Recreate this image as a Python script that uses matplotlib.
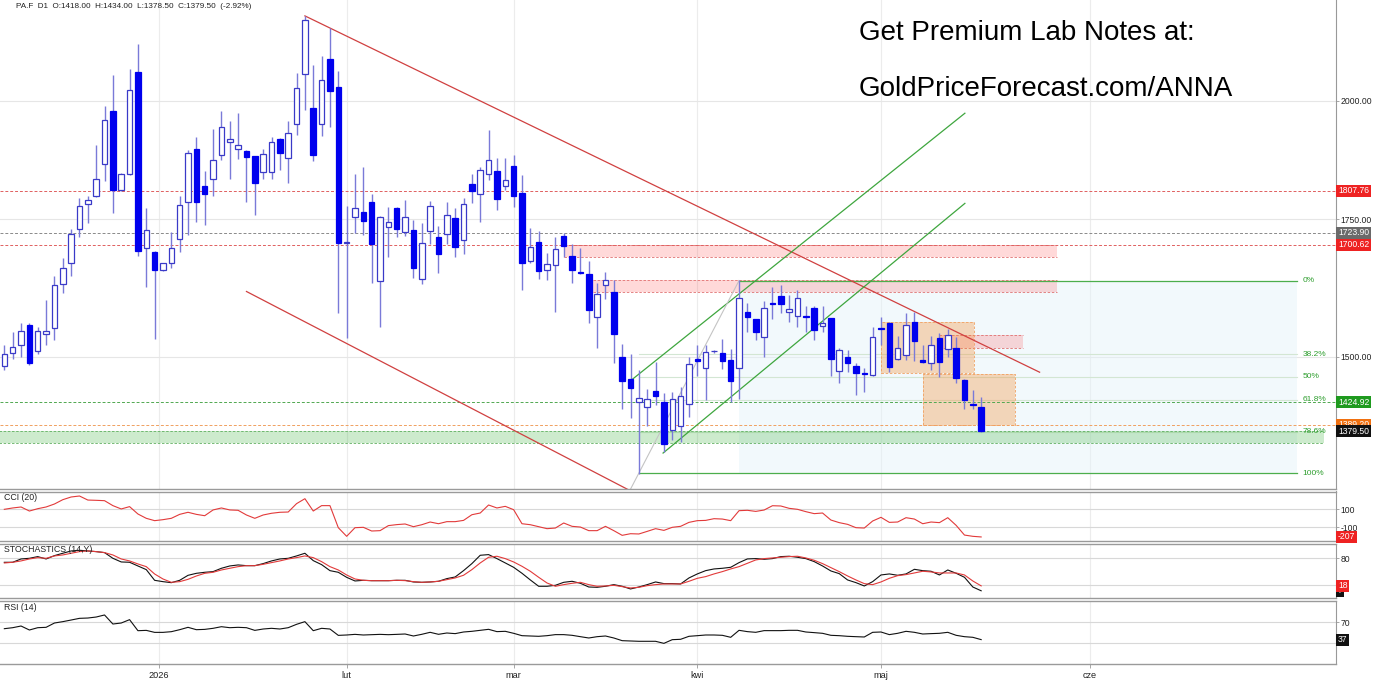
import numpy as np
import matplotlib.pyplot as plt
import matplotlib.ticker as mticker

plt.rcParams['font.family'] = ['Liberation Sans', 'DejaVu Sans']

# daily OHLC, PA.F (index 0 = first visible candle)
opens = [1484, 1507, 1519, 1555, 1510, 1538, 1549, 1627, 1666, 1731,
         1781, 1796, 1862, 1977, 1808, 1841, 2065, 1694, 1687, 1653,
         1666, 1713, 1785, 1894, 1817, 1831, 1882, 1910, 1894, 1891,
         1879, 1845, 1845, 1915, 1876, 1948, 2062, 1984, 1948, 2095,
         2030, 1704, 1754, 1765, 1785, 1634, 1735, 1773, 1725, 1730,
         1637, 1728, 1716, 1721, 1753, 1710, 1821, 1801, 1841, 1847,
         1818, 1858, 1803, 1671, 1706, 1653, 1662, 1718, 1680, 1650,
         1646, 1568, 1625, 1613, 1500, 1463, 1425, 1417, 1444, 1425,
         1381, 1388, 1423, 1496, 1481, 1509, 1506, 1494, 1481, 1577,
         1564, 1533, 1594, 1606, 1577, 1571, 1570, 1584, 1553, 1566,
         1476, 1500, 1484, 1473, 1469, 1549, 1558, 1496, 1502, 1559,
         1494, 1490, 1531, 1513, 1514, 1461, 1423, 1418]
highs = [1520, 1542, 1558, 1557, 1550, 1599, 1642, 1675, 1731, 1793,
         1797, 1903, 1987, 2058, 1843, 2072, 2131, 1772, 1689, 1667,
         1725, 1796, 1893, 1919, 1849, 1938, 1977, 1954, 1972, 1892,
         1880, 1895, 1921, 1917, 1954, 2063, 2200, 2081, 2103, 2170,
         2068, 1777, 1841, 1857, 1800, 1756, 1774, 1775, 1789, 1749,
         1744, 1786, 1737, 1785, 1773, 1792, 1841, 1856, 1935, 1875,
         1875, 1882, 1840, 1733, 1728, 1685, 1716, 1723, 1703, 1694,
         1670, 1629, 1649, 1635, 1522, 1504, 1478, 1446, 1491, 1440,
         1441, 1450, 1499, 1520, 1520, 1512, 1530, 1513, 1635, 1593,
         1565, 1597, 1622, 1625, 1608, 1617, 1587, 1587, 1588, 1567,
         1514, 1511, 1490, 1481, 1551, 1569, 1559, 1535, 1575, 1578,
         1520, 1535, 1541, 1548, 1534, 1462, 1445, 1434]
lows = [1478, 1496, 1499, 1486, 1505, 1520, 1528, 1612, 1643, 1715,
        1744, 1795, 1827, 1762, 1807, 1840, 1680, 1623, 1530, 1651,
        1658, 1687, 1720, 1746, 1739, 1796, 1870, 1832, 1873, 1785,
        1759, 1832, 1832, 1850, 1823, 1924, 1979, 1868, 1922, 1942,
        1575, 1532, 1723, 1720, 1629, 1550, 1678, 1715, 1718, 1638,
        1627, 1702, 1647, 1702, 1678, 1683, 1783, 1746, 1830, 1769,
        1808, 1774, 1617, 1667, 1636, 1635, 1577, 1678, 1630, 1646,
        1557, 1515, 1600, 1490, 1415, 1400, 1315, 1388, 1420, 1347,
        1366, 1363, 1402, 1467, 1429, 1507, 1479, 1426, 1431, 1543,
        1528, 1500, 1565, 1575, 1560, 1551, 1543, 1528, 1543, 1467,
        1457, 1474, 1437, 1442, 1467, 1520, 1474, 1495, 1494, 1493,
        1489, 1478, 1466, 1500, 1457, 1415, 1415, 1378.5]
closes = [1504, 1517, 1544, 1489, 1544, 1544, 1626, 1658, 1722, 1777,
          1788, 1831, 1957, 1808, 1841, 2024, 1690, 1730, 1653, 1666,
          1694, 1778, 1885, 1785, 1801, 1870, 1941, 1915, 1902, 1877,
          1824, 1883, 1909, 1885, 1928, 2028, 2190, 1882, 2047, 2021,
          1704, 1707, 1772, 1748, 1702, 1754, 1746, 1731, 1754, 1658,
          1704, 1777, 1683, 1759, 1697, 1780, 1807, 1850, 1871, 1791,
          1830, 1796, 1666, 1696, 1652, 1664, 1693, 1699, 1653, 1648,
          1581, 1610, 1635, 1538, 1459, 1448, 1432, 1430, 1435, 1359,
          1430, 1435, 1487, 1493, 1508, 1510, 1493, 1459, 1602, 1569,
          1542, 1584, 1592, 1591, 1583, 1602, 1568, 1545, 1558, 1496,
          1511, 1489, 1472, 1471, 1534, 1547, 1483, 1514, 1555, 1527,
          1491, 1520, 1491, 1537, 1464, 1428, 1420, 1379.5]

cci = [100, 115, 126, 81, 107, 126, 159, 207, 237, 248,
       203, 200, 196, 141, 104, 130, 48, 0, -26, -15,
       0, 44, 67, 44, 29, 93, 115, 93, 89, 37,
       0, 37, 56, 67, 70, 163, 218, 81, 141, 141,
       -104, -200, -104, -100, -141, -137, -81, -70, -63, -93,
       -71, -41, -60, -37, -37, -23, 40, 59, 148, 115,
       133, 96, -60, -71, -93, -115, -108, -52, -89, -97,
       -137, -137, -89, -137, -189, -171, -174, -145, -115, -134,
       -100, -89, -45, -26, -23, -4, -8, -26, 85, 89,
       77, 92, 140, 137, 111, 100, 74, 52, 59, -19,
       -48, -67, -104, -108, -30, 11, -45, -41, 7, -8,
       -60, -41, -48, 7, -78, -186, -200, -207]

stoch_k = [70.9, 71, 78.4, 79.9, 83.7, 78.4, 85.9, 91.2, 96.4, 97.9,
           96.4, 94.9, 92.7, 79.9, 71.7, 71, 62.7, 54.5, 30.5, 27.5,
           25.2, 30.5, 41.7, 46.2, 48.5, 50, 57.5, 62.7, 65, 63.4,
           63.4, 68, 74, 78.4, 79.9, 85.2, 91.2, 74.7, 65.7, 52.2,
           48.5, 37.2, 29, 30.5, 29.7, 29.7, 29.7, 30.5, 30.5, 26.8,
           26, 26.8, 28.3, 34.3, 38, 52.2, 68, 86.7, 88.2, 79.2,
           69.5, 59.7, 46.3, 31.3, 17.1, 17.1, 19.3, 26, 28.3, 23.8,
           15.5, 14.8, 17.1, 20.8, 17.1, 11.1, 15.5, 20.8, 26.8, 23.1,
           23.1, 22.3, 35.8, 44.8, 52.2, 56, 57.5, 59.7, 70.2, 78.5,
           79.2, 77.7, 79.2, 83.7, 84.5, 82.2, 79.2, 72.5, 62.7, 51.5,
           45.5, 31.3, 25.3, 17.8, 27.5, 42.5, 44.8, 41.8, 44.8, 55.2,
           52.2, 50.8, 42.5, 53.7, 46.3, 37.3, 15.5, 7]
stoch_d = [69.4, 71, 74, 78.4, 81.4, 79.9, 85.2, 87.4, 91.2, 94.9,
           96.4, 94.9, 92.7, 87.4, 78.4, 74, 67.2, 61.2, 44.7, 33.5,
           26, 27.5, 32.7, 40.2, 46.2, 48.5, 53.7, 57.5, 61.2, 63.4,
           63.4, 66.4, 70.2, 74, 78.4, 81.4, 85.2, 81.4, 72.4, 61.2,
           53.7, 42.5, 33.5, 30.5, 29.7, 29.7, 29.7, 30.5, 29.8, 27.5,
           26, 26.8, 28.3, 32, 35.8, 41.8, 54.5, 69.5, 82.2, 84.5,
           79.2, 71.7, 62, 50.8, 37.3, 24.5, 17.1, 20.8, 23.8, 26,
           20.8, 17.1, 17.8, 19.3, 16.3, 13.3, 14.8, 18.5, 20.8, 22.3,
           22.3, 22.3, 28.3, 35, 38.8, 44.8, 50, 56, 61.2, 68.7,
           76.2, 79.2, 80.7, 82.2, 83.7, 84.5, 80.7, 75.5, 68, 59,
           50, 40.3, 31.3, 23.1, 20.8, 26.8, 35, 41, 43.3, 47,
           50.8, 49.3, 47, 47, 47, 42.5, 29, 18]
rsi = [57.8, 59.7, 62.9, 55.3, 59.7, 60.4, 68.6, 71.2, 74.3, 77.5,
       78.1, 80, 83.9, 66.7, 68.6, 75, 54, 54.6, 50.8, 50.8,
       52.1, 55.9, 60.4, 55.9, 56.5, 58.5, 61.6, 59.7, 60.4, 59.7,
       54.6, 57.2, 58.5, 57.2, 59.7, 66.1, 71.2, 54, 58.5, 57.2,
       45.1, 45.8, 47, 45.8, 46.4, 47, 46.4, 47, 47.7, 43.9,
       47.1, 50.9, 47.1, 49.6, 48.4, 51.5, 52.8, 54.7, 56.6, 52.2,
       52.8, 49, 44.5, 43.9, 43.3, 44.5, 46.5, 46.5, 45.2, 42.6,
       40.1, 42.6, 43.9, 40.1, 35, 34.4, 33.8, 33.8, 33.8, 29.9,
       36.9, 37.6, 43.3, 44.5, 45.8, 45.8, 45.2, 41.4, 54.7, 52.2,
       50.9, 54.1, 54.1, 54.1, 54.7, 54.7, 51.5, 50.3, 49, 45.2,
       44.5, 43.3, 42.6, 42, 50.9, 51.5, 46.5, 49, 52.8, 50.9,
       47.7, 48.4, 49, 50.9, 45.2, 42.6, 41.4, 37]

month_pos = [18.5, 41, 61, 83, 105, 130]
month_lbl = ['2026', 'lut', 'mar', 'kwi', 'maj', 'cze']
price_ticks = [1500, 1750, 2000]

# horizontal levels (price, colour of label box)
levels = [1807.76, 1723.90, 1700.62, 1424.92, 1389.20, 1379.50]
level_cols = ['#ee2222', '#6a6a6a', '#ee2222', '#1f9a1f', '#f07010', '#111111']
line_cols = ['#e06060', '#8a8a8a', '#e06060', '#50a850', '#f0a060']

# fibonacci retracement (low of candle 76 -> high of candle 88)
fib_hi, fib_lo = 1634, 1316
fib_ratios = [0, 0.382, 0.5, 0.618, 0.786, 1.0]
fib_labels = ['0%', '38.2%', '50%', '61.8%', '78.6%', '100%']

# zones: (x start, x end, low price, high price)
red_zones = [(67, 126.1, 1677, 1700.6), (70.5, 126.1, 1612.5, 1635), (111.9, 122, 1515, 1537)]
orange_zones = [(105, 116.1, 1472.4, 1560), (110, 121.1, 1389, 1470.8)]
green_zone = (-1, 158.1, 1362, 1379.1)

red_lines = [((36, 2200), (124, 1474)), ((29, 1614), (75, 1290))]
green_lines = [((75.1, 1461), (115.05, 1972)), ((78.9, 1346), (115.05, 1782))]

W, H = 1386, 682
RIGHT = 1336


def rect(top, bottom):
    return [0, 1 - bottom / H, RIGHT / W, (bottom - top) / H]


fig = plt.figure(figsize=(W / 100, H / 100), dpi=100)
ax = fig.add_axes(rect(0, 489))
ax_cci = fig.add_axes(rect(491.5, 541), sharex=ax)
ax_st = fig.add_axes(rect(544, 598), sharex=ax)
ax_rsi = fig.add_axes(rect(601, 664), sharex=ax)

n = len(opens)
x = np.arange(n)
o, h, l, c = map(np.array, (opens, highs, lows, closes))

ax.set_yscale('log')
ax.set_xlim(-0.52, 159.5)
ax.set_ylim(1292.7, 2239.6)

for a in (ax, ax_cci, ax_st, ax_rsi):
    for p in month_pos:
        a.axvline(p, color='#ececec', lw=0.8, zorder=0)
    for s in ('left', 'top'):
        a.spines[s].set_visible(False)
    a.spines['right'].set_color('#999999')
    a.spines['bottom'].set_color('#9a9a9a')
    a.spines['bottom'].set_linewidth(1.0)
    a.yaxis.tick_right()
    a.tick_params(axis='y', length=2, width=0.6, pad=1, labelsize=6.2, colors='#999999', labelcolor='#222222')
    a.tick_params(axis='x', bottom=False, labelbottom=False)
    a.set_facecolor('none')

for a in (ax_cci, ax_st, ax_rsi):
    a.spines['top'].set_visible(True)
    a.spines['top'].set_color('#9a9a9a')
    a.spines['top'].set_linewidth(1.0)

# price grid
for p in price_ticks:
    ax.axhline(p, color='#e6e6e6', lw=0.8, zorder=0)
ax.yaxis.set_major_locator(mticker.FixedLocator(price_ticks))
ax.yaxis.set_major_formatter(mticker.FuncFormatter(lambda v, pos: f'{v:.2f}'))
ax.yaxis.set_minor_locator(mticker.NullLocator())

# fib area and levels
fib_vals = [fib_hi * (fib_lo / fib_hi) ** r for r in fib_ratios]
ax.fill_between([88, 154.8], fib_lo, fib_hi, color='#e4f3fa', alpha=0.45, lw=0, zorder=0)
for r, v, lab in zip(fib_ratios, fib_vals, fib_labels):
    if r in (0, 1.0):
        x0 = 88 if r == 0 else 76
        ax.plot([x0, 154.8], [v, v], color='#4cae4c', lw=0.9, zorder=2)
    else:
        ax.plot([76, 154.8], [v, v], color='#d3e6d3', lw=0.8, zorder=1)
    ax.text(155.5, v, lab, color='#2f9e2f', fontsize=6, va='center', ha='left', zorder=6)

# zones
for x0, x1, lo, hi in red_zones:
    ax.fill_between([x0, x1], lo, hi, color='#ff3030', alpha=0.18, lw=0, zorder=1)
    ax.plot([x0, x1], [lo, lo], color='#e07070', lw=0.6, ls=(0, (3, 2)), zorder=1)
    ax.plot([x0, x1], [hi, hi], color='#e07070', lw=0.6, ls=(0, (3, 2)), zorder=1)
for x0, x1, lo, hi in orange_zones:
    ax.fill_between([x0, x1], lo, hi, color='#f58c32', alpha=0.33, lw=0, zorder=1)
    ax.plot([x0, x1, x1, x0, x0], [lo, lo, hi, hi, lo], color='#f0a060', lw=0.6, ls=(0, (3, 2)), zorder=1)
gx0, gx1, glo, ghi = green_zone
ax.fill_between([gx0, gx1], glo, ghi, color='#28aa28', alpha=0.23, lw=0, zorder=1)
ax.plot([gx0, gx1], [glo, glo], color='#60b060', lw=0.6, ls=(0, (3, 2)), zorder=1)
ax.plot([gx0, gx1], [ghi, ghi], color='#60b060', lw=0.6, ls=(0, (3, 2)), zorder=1)

# horizontal levels across the chart
for v, lc in zip(levels[:-1], line_cols):
    ax.axhline(v, color=lc, lw=0.7, ls=(0, (3, 2)), zorder=1)

# trend lines
for (xa, ya), (xb, yb) in red_lines:
    ax.plot([xa, xb], [ya, yb], color='#d04040', lw=0.9, zorder=2)
for (xa, ya), (xb, yb) in green_lines:
    ax.plot([xa, xb], [ya, yb], color='#3ea63e', lw=0.9, zorder=2)
k = np.log(fib_hi / fib_lo) / 12
ax.plot([74.6, 88], [fib_lo * np.exp(-1.4 * k), fib_hi], color='#c4c4c4', lw=0.8, zorder=2)

# candles
up = c >= o
ax.vlines(x, l, h, color='#7a7ad8', lw=1.0, zorder=3)
body_lo = np.minimum(o, c)
body_h = np.maximum(np.abs(c - o), 0.8)
ax.bar(x[up], body_h[up], bottom=body_lo[up], width=0.66, color='white',
       edgecolor='#3a3ac8', lw=0.9, zorder=4)
ax.bar(x[~up], body_h[~up], bottom=body_lo[~up], width=0.66, color='#0000ee',
       edgecolor='#0000ee', lw=0.9, zorder=4)


def tag(a, v, txt, fc, tc='white'):
    a.text(1.0015, v, txt, transform=a.get_yaxis_transform(), ha='left', va='center',
           fontsize=6.2, color=tc, clip_on=False, zorder=10,
           bbox=dict(boxstyle='square,pad=0.18', fc=fc, ec='none'))


for v, col in zip(levels, level_cols):
    tag(ax, v, f'{v:.2f}', col)

# CCI
ax_cci.plot(x, cci, color='#e23a3a', lw=0.8)
ax_cci.set_ylim(-252, 298)
for g in (100, -100):
    ax_cci.axhline(g, color='#d8d8d8', lw=0.8, zorder=0)
ax_cci.set_yticks([100, -100])
ax_cci.set_yticklabels(['100', '-100'])
tag(ax_cci, cci[-1], f'{cci[-1]}', '#ee2222')

# Stochastics
ax_st.plot(x, stoch_k, color='#111111', lw=0.8)
ax_st.plot(x, stoch_d, color='#e23a3a', lw=0.8)
ax_st.set_ylim(-9.2, 112)
for g in (80, 20):
    ax_st.axhline(g, color='#d8d8d8', lw=0.8, zorder=0)
ax_st.set_yticks([80])
ax_st.set_yticklabels(['80'])
tag(ax_st, stoch_k[-1], f'{stoch_k[-1]:.0f}', '#111111')
tag(ax_st, stoch_d[-1], f'{stoch_d[-1]:.0f}', '#ee2222')

# RSI
ax_rsi.plot(x, rsi, color='#111111', lw=0.8)
ax_rsi.set_ylim(-9.4, 110.5)
for g in (70, 30):
    ax_rsi.axhline(g, color='#d8d8d8', lw=0.8, zorder=0)
ax_rsi.set_yticks([70])
ax_rsi.set_yticklabels(['70'])
tag(ax_rsi, rsi[-1], f'{rsi[-1]:.0f}', '#111111')

ax_rsi.set_xticks(month_pos)
ax_rsi.set_xticklabels(month_lbl)
ax_rsi.tick_params(axis='x', bottom=True, labelbottom=True, length=3, width=0.6,
                   colors='#999999', labelcolor='#222222', labelsize=6.6, pad=2)

# panel titles and header
fig.text(4 / W, 1 - 497 / H, 'CCI (20)', fontsize=6.3, va='center', color='#222222')
fig.text(4 / W, 1 - 550 / H, 'STOCHASTICS (14,Y)', fontsize=6.3, va='center', color='#222222')
fig.text(4 / W, 1 - 607 / H, 'RSI (14)', fontsize=6.3, va='center', color='#222222')
fig.text(16 / W, 1 - 7 / H, 'PA.F  D1  O:1418.00  H:1434.00  L:1378.50  C:1379.50  (-2.92%)',
         fontsize=5.9, va='center', color='#222222')

fig.text(859 / W, 1 - 40 / H, 'Get Premium Lab Notes at:', fontsize=20, va='baseline', color='black')
fig.text(859 / W, 1 - 96 / H, 'GoldPriceForecast.com/ANNA', fontsize=20, va='baseline', color='black')

fig.savefig('out.png', dpi=100)
